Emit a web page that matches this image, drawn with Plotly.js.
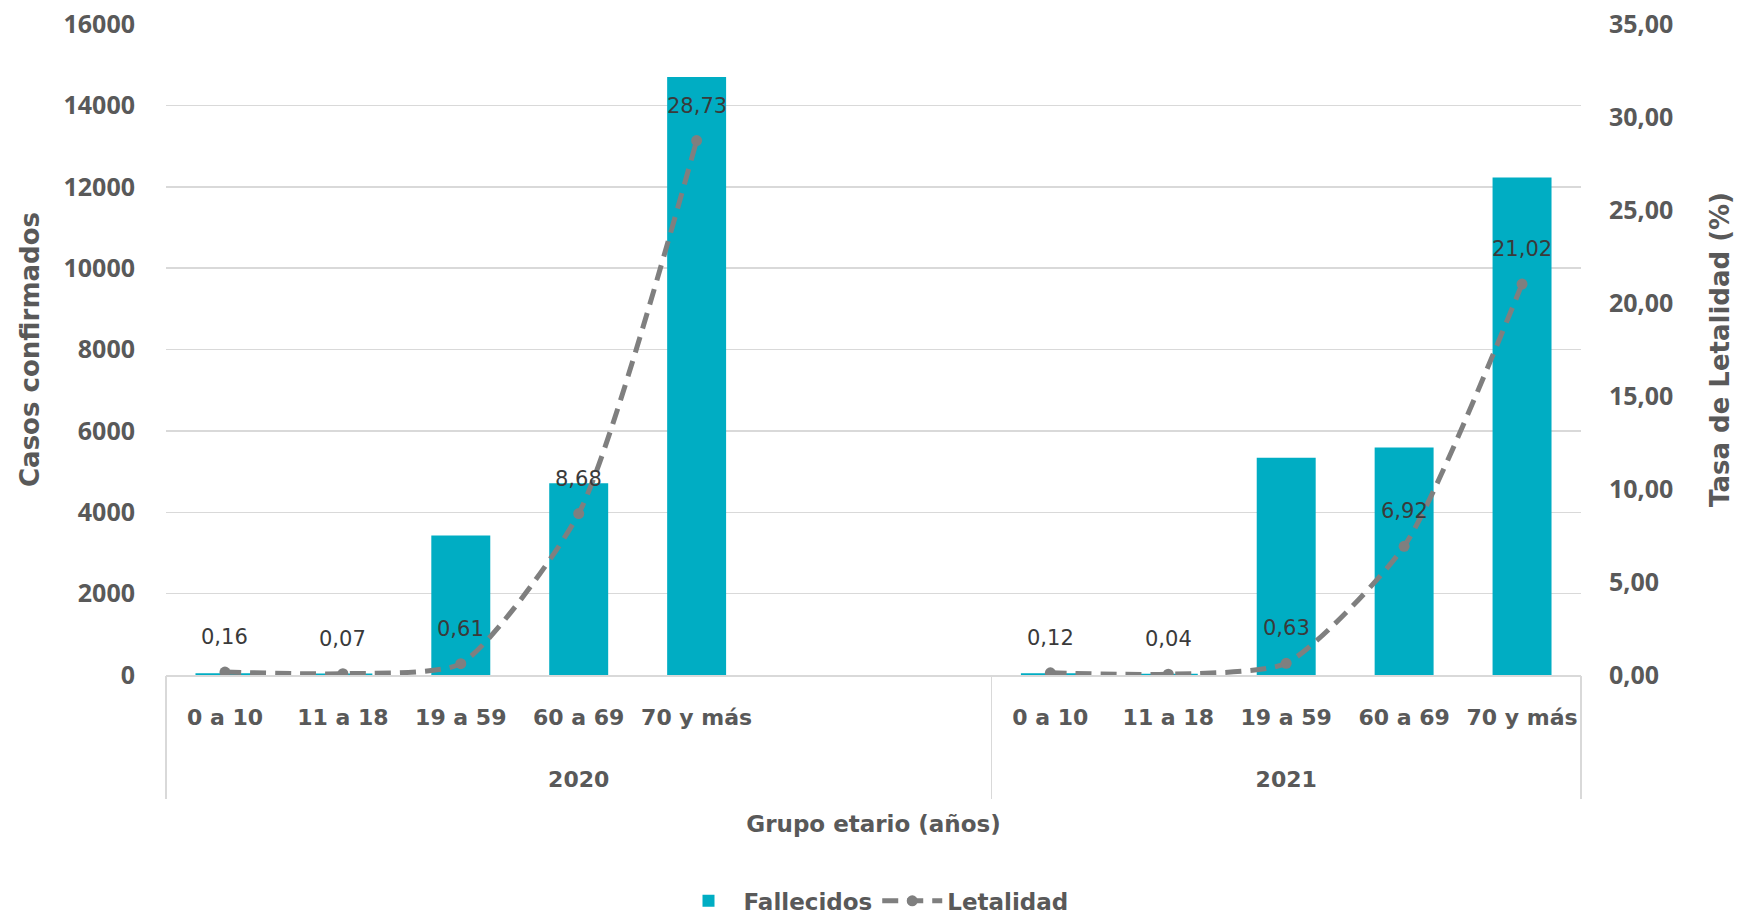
<!DOCTYPE html>
<html>
<head>
<meta charset="utf-8">
<script src="https://cdn.plot.ly/plotly-3.0.1.min.js"></script>
<style>html,body{margin:0;padding:0;background:#fff;}#chart{width:1737px;height:915px;}</style>
</head>
<body>
<div id="chart"></div>
<script>
// Data
const years = ['2020','2020','2020','2020','2020','2020','2020','2021','2021','2021','2021','2021'];
const ageGroups = ['0 a 10','11 a 18','19 a 59','60 a 69','70 y más','','','0 a 10','11 a 18','19 a 59','60 a 69','70 y más'];
const fallecidos = [45, 35, 3430, 4710, 14700, null, null, 40, 30, 5340, 5590, 12230];
const letalidad = [0.16, 0.07, 0.61, 8.68, 28.73, null, null, 0.12, 0.04, 0.63, 6.92, 21.02];
const leftTicks = [0, 2000, 4000, 6000, 8000, 10000, 12000, 14000, 16000];
const rightTicks = [0, 5, 10, 15, 20, 25, 30, 35];

const GRAY = '#595959';
const GRID = '#D9D9D9';
const TEAL = '#00ADC3';
const LINE = '#7F7F7F';
const boldFont = 'DejaVu Sans';

// slot positions on the category axis
const positions = ageGroups.map((_, i) => i);

// group (year) centres and boundaries derived from the years array
const groupNames = [];
const groupCenters = [];
const groupBounds = [];
years.forEach((y, i) => {
  if (i === 0 || years[i - 1] !== y) {
    groupNames.push(y);
    const last = years.lastIndexOf(y);
    groupCenters.push((i + last) / 2);
    groupBounds.push(i - 0.5);
  }
});
groupBounds.push(years.length - 0.5);

const traces = [
  {
    type: 'bar', name: 'Fallecidos',
    x: positions, y: fallecidos,
    marker: {color: TEAL}, yaxis: 'y', hoverinfo: 'skip'
  },
  {
    type: 'scatter', mode: 'lines+markers', name: 'Letalidad',
    x: positions, y: letalidad, yaxis: 'y2',
    connectgaps: false,
    line: {color: LINE, width: 5, dash: '16px,9px', shape: 'spline', smoothing: 0.6},
    marker: {color: LINE, size: 11, symbol: 'circle'},
    hoverinfo: 'skip'
  },
  // empty helper traces so the year-label and divider axes get drawn
  {type: 'scatter', mode: 'none', x: [], y: [], xaxis: 'x2', yaxis: 'y', showlegend: false, hoverinfo: 'skip'},
  {type: 'scatter', mode: 'none', x: [], y: [], xaxis: 'x3', yaxis: 'y', showlegend: false, hoverinfo: 'skip'}
];

const annotations = [];
letalidad.forEach((v, i) => {
  if (v === null) return;
  annotations.push({
    x: positions[i], y: v, xref: 'x', yref: 'y2', yshift: 35, showarrow: false,
    text: v.toFixed(2).replace('.', ','),
    font: {family: 'DejaVu Sans', size: 21, color: '#3A3A3A'}
  });
});

const xRange = [-0.5, ageGroups.length - 0.5];

const layout = {
  width: 1737, height: 915,
  margin: {l: 166, r: 156, t: 24, b: 240, autoexpand: false},
  paper_bgcolor: '#fff', plot_bgcolor: '#fff',
  separators: ',.',
  bargap: 0.5,
  showlegend: true,
  legend: {
    orientation: 'h', x: 0.5, xanchor: 'center', y: -0.347, yanchor: 'middle',
    font: {family: boldFont, size: 23, color: GRAY, weight: 'bold'},
    itemwidth: 60, traceorder: 'normal'
  },
  // age-group labels
  xaxis: {
    type: 'linear', range: xRange, tickmode: 'array',
    tickvals: positions, ticktext: ageGroups, tickangle: 0,
    showline: true, linecolor: GRID, linewidth: 1.5,
    tickfont: {family: boldFont, size: 22, color: GRAY, weight: 'bold'},
    ticks: '', showgrid: false, zeroline: false, ticklabelstandoff: 22,
    automargin: false, fixedrange: true
  },
  // year labels + axis title
  xaxis2: {
    type: 'linear', range: xRange, overlaying: 'x', anchor: 'y', side: 'bottom',
    tickmode: 'array', tickvals: groupCenters, ticktext: groupNames, tickangle: 0,
    tickfont: {family: boldFont, size: 22, color: GRAY, weight: 'bold'},
    ticks: '', showgrid: false, zeroline: false, showline: false, ticklabelstandoff: 89,
    title: {text: 'Grupo etario (años)', standoff: 24,
      font: {family: boldFont, size: 23, color: GRAY, weight: 'bold'}},
    automargin: false, fixedrange: true
  },
  // group dividers
  xaxis3: {
    type: 'linear', range: xRange, overlaying: 'x', anchor: 'y', side: 'bottom',
    tickmode: 'array', tickvals: groupBounds, showticklabels: false,
    ticks: 'outside', ticklen: 123, tickwidth: 1.5, tickcolor: GRID,
    showgrid: false, zeroline: false, showline: false,
    automargin: false, fixedrange: true
  },
  yaxis: {
    range: [0, 16000], tickvals: leftTicks, tickformat: 'd',
    showgrid: true, gridcolor: GRID, gridwidth: 1.5, zeroline: false,
    showline: false, ticks: '', ticklabelstandoff: 30,
    tickfont: {family: 'Open Sans', size: 25, color: GRAY, weight: 'bold'},
    title: {text: 'Casos confirmados', standoff: 16,
      font: {family: 'DejaVu Sans', size: 26, color: GRAY, weight: 'bold'}},
    automargin: false, fixedrange: true
  },
  yaxis2: {
    overlaying: 'y', side: 'right',
    range: [0, 35], tickvals: rightTicks, tickformat: '.2f',
    showgrid: false, zeroline: false, showline: false, ticks: '', ticklabelstandoff: 27,
    tickfont: {family: 'Open Sans', size: 25, color: GRAY, weight: 'bold'},
    title: {text: 'Tasa de Letalidad (%)', standoff: 38,
      font: {family: 'DejaVu Sans', size: 26, color: GRAY, weight: 'bold'}},
    automargin: false, fixedrange: true
  },
  annotations: annotations
};

Plotly.newPlot('chart', traces, layout, {displayModeBar: false, staticPlot: true});
</script>
</body>
</html>
